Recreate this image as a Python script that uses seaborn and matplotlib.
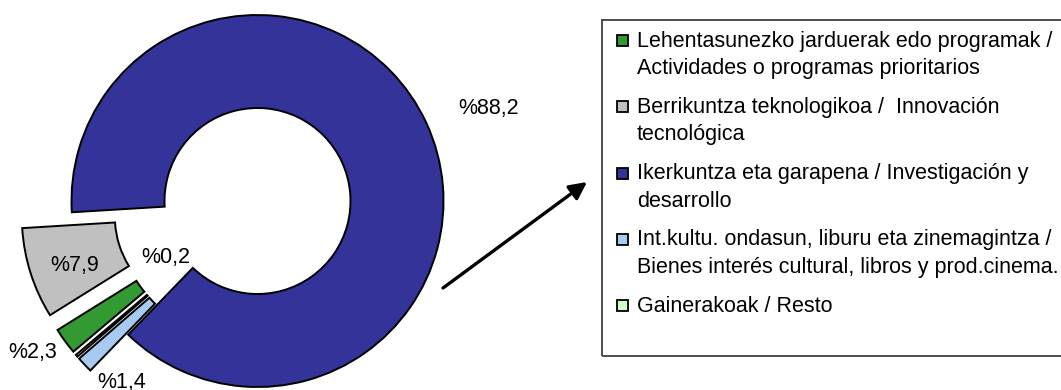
import matplotlib
matplotlib.use("Agg")
import matplotlib.pyplot as plt
import seaborn as sns
from matplotlib.patches import Rectangle

# data
categories = [
    "Lehentasunezko jarduerak edo programak /\nActividades o programas prioritarios",
    "Berrikuntza teknologikoa /  Innovación\ntecnológica",
    "Ikerkuntza eta garapena / Investigación y\ndesarrollo",
    "Int.kultu. ondasun, liburu eta zinemagintza /\nBienes interés cultural, libros y prod.cinema.",
    "Gainerakoak / Resto",
]
shares = [2.3, 7.9, 88.2, 1.4, 0.2]
value_labels = ["%2,3", "%7,9", "%88,2", "%1,4", "%0,2"]
colors = ["#339933", "#c0c0c0", "#333399", "#a6caf0", "#ccffcc"]

sns.set_theme(style="white")
plt.rcParams["font.family"] = ["Liberation Sans", "DejaVu Sans"]
FS = 15.5

W, H = 1061, 390
fig = plt.figure(figsize=(W / 100, H / 100), dpi=100)
ax = fig.add_axes([0, 0, 1, 1])

# donut, drawn in pixel units (y up)
R = 186
cx, cy = 257.5, H - 201
explode = [0 if s > 50 else 0.28 * R for s in shares]
ax.pie(shares, colors=colors, startangle=220.2, counterclock=False,
       radius=R, center=(cx, cy), explode=explode,
       wedgeprops=dict(width=R / 2, edgecolor="black", linewidth=1.4))
ax.set_xlim(0, W)
ax.set_ylim(0, H)
ax.set_aspect("equal")
ax.axis("off")

# percentage labels (x centre, baseline from top)
label_pos = [(33, 358), (75, 271), (489, 114), (122, 388), (166, 263)]
for txt, (x, y) in zip(value_labels, label_pos):
    ax.text(x, H - y, txt, ha="center", va="baseline", fontsize=FS, color="black")

# arrow towards the legend
ax.annotate("", xy=(587, H - 182), xytext=(443, H - 288),
            arrowprops=dict(arrowstyle="-|>", color="black", lw=2.4,
                            mutation_scale=26, shrinkA=0, shrinkB=0))

# legend box drawn by hand so the swatch sits on the first line
ax.add_patch(Rectangle((602, H - 356), 500, 336, facecolor="none",
                       edgecolor="#404040", linewidth=1.3))
for i, (lab, col) in enumerate(zip(categories, colors)):
    base = 46.5 + 66.3 * i
    ax.add_patch(Rectangle((616.5, H - (base - 6) - 5.5), 11, 11,
                           facecolor=col, edgecolor="black", linewidth=1.3))
    for j, line in enumerate(lab.split("\n")):
        ax.text(637, H - (base + 27.5 * j), line, ha="left", va="baseline",
                fontsize=FS, color="black")

fig.savefig("out.png", dpi=100)
